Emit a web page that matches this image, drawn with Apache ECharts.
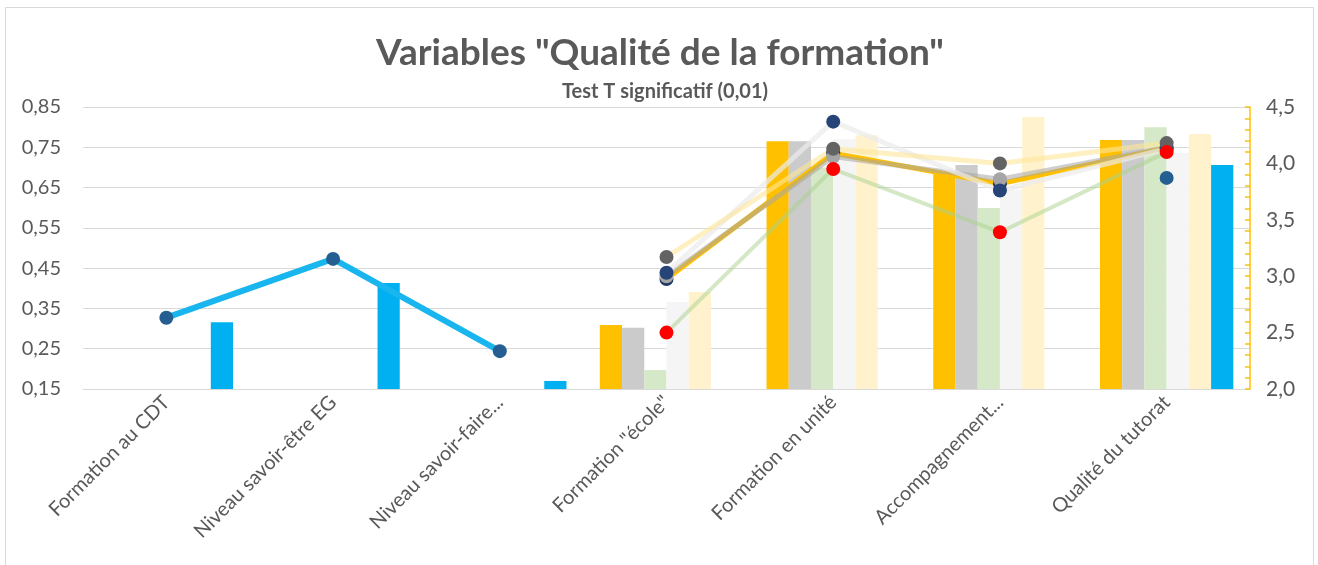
<!DOCTYPE html>
<html>
<head>
<meta charset="utf-8">
<script src="https://cdn.jsdelivr.net/npm/echarts@6/dist/echarts.min.js"></script>
<style>
  html, body { margin: 0; padding: 0; background: #fff; }
  #chart { width: 1318px; height: 565px; }
</style>
</head>
<body>
<div id="chart"></div>
<script>
var categories = ['Formation au CDT', 'Niveau savoir-être EG', 'Niveau savoir-faire...', 'Formation "école"',
                  'Formation en unité', 'Accompagnement...', 'Qualité du tutorat'];

// bars (left axis)
var barOrange = [null, null, null, 0.309, 0.765, 0.686, 0.768];
var barGray   = [null, null, null, 0.302, 0.765, 0.706, 0.768];
var barGreen  = [null, null, null, 0.197, 0.700, 0.599, 0.800];
var barWhite  = [null, null, null, 0.366, 0.770, 0.645, 0.736];
var barYellow = [null, null, null, 0.391, 0.780, 0.825, 0.783];
var barBlue   = [0.316, 0.413, 0.170, null, null, null, 0.706];

// blue line (left axis)
var lineBlue = [0.327, 0.473, 0.244, null, null, null, 0.674];

// lines (right axis)
var lineOrange = [null, null, null, 2.975, 4.09, 3.82, 4.14];
var lineGray   = [null, null, null, 3.00, 4.06, 3.86, 4.14];
var lineWhite  = [null, null, null, 3.03, 4.37, 3.76, 4.13];
var lineYellow = [null, null, null, 3.17, 4.13, 4.00, 4.18];
var lineGreen  = [null, null, null, 2.50, 3.95, 3.39, 4.10];

var FONT = 'Lato';
var TXT = '#595959';

function bar(data, color) {
  return { type: 'bar', yAxisIndex: 0, data: data, barGap: '0%', barCategoryGap: '20%',
           itemStyle: { color: color }, z: 1 };
}
function line(data, axis, lineColor, markColor, width) {
  return { type: 'line', yAxisIndex: axis, data: data, symbol: 'circle', symbolSize: 14,
           connectNulls: false, lineStyle: { color: lineColor, width: width },
           itemStyle: { color: markColor }, z: 3 };
}

var chart = echarts.init(document.getElementById('chart'));
chart.setOption({
  animation: false,
  textStyle: { fontFamily: FONT },
  graphic: [{
    type: 'rect', shape: { x: 5.5, y: 7.5, width: 1308, height: 570 },
    style: { fill: 'none', stroke: '#d9d9d9', lineWidth: 1 }, z: -1
  }],
  title: [{
    text: 'Variables "Qualité de la formation"',
    left: 655, top: 30, textAlign: 'center',
    textStyle: { fontFamily: FONT, fontSize: 37, fontWeight: 'bold', color: TXT }
  }, {
    text: 'Test T significatif (0,01)',
    left: 660, top: 77, textAlign: 'center',
    textStyle: { fontFamily: FONT, fontSize: 20, fontWeight: 'bold', color: TXT }
  }],
  grid: { left: 83, right: 68, top: 107, bottom: 176, containLabel: false },
  xAxis: {
    type: 'category', data: categories,
    axisLine: { lineStyle: { color: '#d9d9d9', width: 1 } },
    axisTick: { show: false },
    axisLabel: { rotate: 45, interval: 0, fontSize: 20, color: TXT, fontFamily: FONT, margin: 10 }
  },
  yAxis: [{
    type: 'value', min: 0.15, max: 0.85, interval: 0.1,
    axisLine: { show: false }, axisTick: { show: false },
    splitLine: { lineStyle: { color: '#d9d9d9', width: 1 } },
    axisLabel: { fontSize: 20, color: TXT, fontFamily: FONT, margin: 22,
                 formatter: function (v) { return v.toFixed(2).replace('.', ','); } }
  }, {
    type: 'value', min: 2, max: 4.5, interval: 0.5, position: 'right',
    axisLine: { show: true, lineStyle: { color: '#ffc000', width: 1.5 } },
    axisTick: { show: true, inside: true, length: 5, lineStyle: { color: '#ffc000', width: 1.5 } },
    minorTick: { show: true, splitNumber: 5, length: 5, lineStyle: { color: '#ffc000', width: 1.5 } },
    splitLine: { show: false },
    axisLabel: { fontSize: 21, color: TXT, fontFamily: FONT, margin: 16,
                 formatter: function (v) { return v.toFixed(1).replace('.', ','); } }
  }],
  series: [
    bar(barOrange, '#ffc000'),
    bar(barGray, '#cbcbcb'),
    bar(barGreen, '#d5e8c8'),
    bar(barWhite, '#f5f5f5'),
    bar(barYellow, '#fff2cc'),
    bar(barBlue, '#00b0f0'),
    line(lineOrange, 1, '#ffc000', '#1f3864', 5),
    line(lineGray, 1, 'rgba(165,165,165,0.55)', '#a5a5a5', 5),
    line(lineWhite, 1, 'rgba(235,235,235,0.7)', '#264478', 5),
    line(lineYellow, 1, 'rgba(255,230,153,0.6)', '#636363', 5),
    line(lineGreen, 1, 'rgba(169,209,142,0.5)', '#ff0000', 4),
    line(lineBlue, 0, '#19b5ee', '#255e91', 6)
  ]
});
</script>
</body>
</html>
